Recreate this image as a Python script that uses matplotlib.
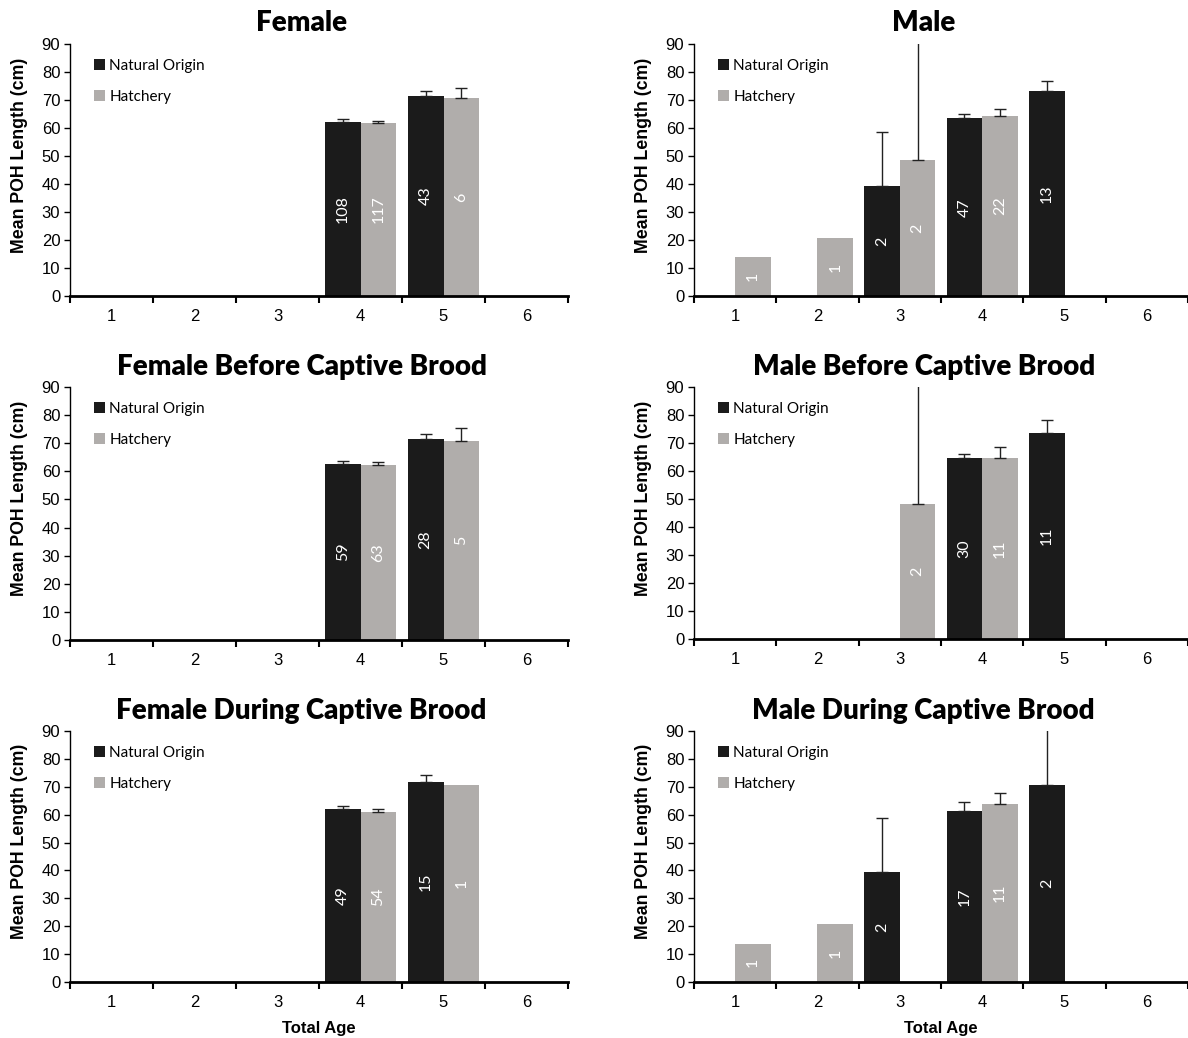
import matplotlib
matplotlib.use("Agg")
import matplotlib.pyplot as plt
from matplotlib.patches import Patch
import numpy as np

ages = [1, 2, 3, 4, 5, 6]
age_labels = ["1", "2", "3", "4", "5", "6"]

titles = ["Female", "Male",
          "Female Before Captive Brood", "Male Before Captive Brood",
          "Female During Captive Brood", "Male During Captive Brood"]

# Mean POH length (cm) by total age; None = no fish
female_nat = [None, None, None, 62.3, 71.6, None]
female_hat = [None, None, None, 61.7, 70.7, None]
female_nat_err = [None, None, None, 1.0, 1.6, None]
female_hat_err = [None, None, None, 0.7, 3.6, None]
female_nat_n = [None, None, None, 108, 43, None]
female_hat_n = [None, None, None, 117, 6, None]

male_nat = [None, None, 39.4, 63.4, 73.1, None]
male_hat = [13.9, 20.8, 48.4, 64.2, None, None]
male_nat_err = [None, None, 19.1, 1.5, 3.8, None]
male_hat_err = [None, None, 60.0, 2.5, None, None]
male_nat_n = [None, None, 2, 47, 13, None]
male_hat_n = [1, 1, 2, 22, None, None]

fbefore_nat = [None, None, None, 62.6, 71.6, None]
fbefore_hat = [None, None, None, 62.2, 70.7, None]
fbefore_nat_err = [None, None, None, 1.1, 1.8, None]
fbefore_hat_err = [None, None, None, 1.1, 4.7, None]
fbefore_nat_n = [None, None, None, 59, 28, None]
fbefore_hat_n = [None, None, None, 63, 5, None]

mbefore_nat = [None, None, None, 64.7, 73.6, None]
mbefore_hat = [None, None, 48.3, 64.6, None, None]
mbefore_nat_err = [None, None, None, 1.2, 4.5, None]
mbefore_hat_err = [None, None, 60.0, 3.9, None, None]
mbefore_nat_n = [None, None, None, 30, 11, None]
mbefore_hat_n = [None, None, 2, 11, None, None]

fduring_nat = [None, None, None, 62.1, 71.8, None]
fduring_hat = [None, None, None, 61.1, 70.8, None]
fduring_nat_err = [None, None, None, 1.1, 2.6, None]
fduring_hat_err = [None, None, None, 1.1, None, None]
fduring_nat_n = [None, None, None, 49, 15, None]
fduring_hat_n = [None, None, None, 54, 1, None]

mduring_nat = [None, None, 39.4, 61.2, 70.6, None]
mduring_hat = [13.8, 20.8, None, 64.0, None, None]
mduring_nat_err = [None, None, 19.3, 3.3, 40.0, None]
mduring_hat_err = [None, None, None, 3.7, None, None]
mduring_nat_n = [None, None, 2, 17, 2, None]
mduring_hat_n = [1, 1, None, 11, None, None]

panels = [
    (female_nat, female_hat, female_nat_err, female_hat_err, female_nat_n, female_hat_n),
    (male_nat, male_hat, male_nat_err, male_hat_err, male_nat_n, male_hat_n),
    (fbefore_nat, fbefore_hat, fbefore_nat_err, fbefore_hat_err, fbefore_nat_n, fbefore_hat_n),
    (mbefore_nat, mbefore_hat, mbefore_nat_err, mbefore_hat_err, mbefore_nat_n, mbefore_hat_n),
    (fduring_nat, fduring_hat, fduring_nat_err, fduring_hat_err, fduring_nat_n, fduring_hat_n),
    (mduring_nat, mduring_hat, mduring_nat_err, mduring_hat_err, mduring_nat_n, mduring_hat_n),
]

NAT_COLOR = "#1b1b1b"
HAT_COLOR = "#b0adab"
W = 0.43

plt.rcParams["font.family"] = ["Liberation Sans", "DejaVu Sans"]

fig = plt.figure(figsize=(11.88, 10.38), dpi=100)
FW, FH = 1188.0, 1038.0

# axes boxes in pixels: (left, top, right, bottom)
boxes = [
    (70, 44, 568, 296), (694, 44, 1188, 296),
    (70, 387, 568, 640), (694, 387, 1188, 639),
    (70, 731, 568, 982), (694, 731, 1188, 982),
]

for i, (box, title, data) in enumerate(zip(boxes, titles, panels)):
    l, t, r, b = box
    ax = fig.add_axes([l / FW, 1 - b / FH, (r - l) / FW, (b - t) / FH])
    nat, hat, nat_err, hat_err, nat_n, hat_n = data
    for series, errs, ns, color, off in [
        (nat, nat_err, nat_n, NAT_COLOR, -W / 2),
        (hat, hat_err, hat_n, HAT_COLOR, W / 2),
    ]:
        for a, v, e, n in zip(ages, series, errs, ns):
            if v is None:
                continue
            ax.bar(a + off, v, width=W, color=color, zorder=2)
            if e is not None:
                ax.errorbar(a + off, v, yerr=[[0], [e]], fmt="none",
                            ecolor="#222222", elinewidth=1.0, capsize=4,
                            capthick=1.0, zorder=3)
            if n is not None:
                ax.text(a + off, v / 2, str(n), rotation=90, color="white",
                        ha="center", va="center", fontsize=11.5,
                        family=["Lato", "DejaVu Sans"], zorder=4)
    ax.set_xlim(0.5, 6.5)
    ax.set_ylim(0, 90)
    ax.set_yticks(np.arange(0, 91, 10))
    ax.set_xticks(ages)
    ax.set_xticklabels(age_labels)
    ax.set_xticks(np.arange(0.5, 6.6, 1.0), minor=True)
    ax.tick_params(axis="x", which="major", length=0, pad=9.5, labelsize=12)
    ax.tick_params(axis="x", which="minor", length=5, width=1.5, direction="out")
    ax.tick_params(axis="y", which="major", length=4, width=1, direction="out",
                   pad=3, labelsize=12)
    for s in ["top", "right"]:
        ax.spines[s].set_visible(False)
    ax.spines["bottom"].set_linewidth(2.0)
    ax.spines["left"].set_linewidth(1.0)
    ax.set_ylabel("Mean POH Length (cm)", fontsize=12.8, fontweight="bold")
    ax.yaxis.set_label_coords(-41.5 / (r - l), 0.56)
    if i >= 4:
        ax.set_xlabel("Total Age", fontsize=12, fontweight="bold", labelpad=8)
    ax.set_title(title, x=0.465, fontsize=20, fontweight="heavy",
                 family=["Lato", "DejaVu Sans"], pad=9)
    handles = [Patch(facecolor=NAT_COLOR, label="Natural Origin"),
               Patch(facecolor=HAT_COLOR, label="Hatchery")]
    ax.legend(handles=handles, loc="upper left", bbox_to_anchor=(0.021, 0.995),
              frameon=False, handlelength=0.7, handleheight=0.7,
              handletextpad=0.3, labelspacing=1.12,
              prop={"family": ["Lato", "DejaVu Sans"], "size": 11})

fig.savefig("out.png", dpi=100)
